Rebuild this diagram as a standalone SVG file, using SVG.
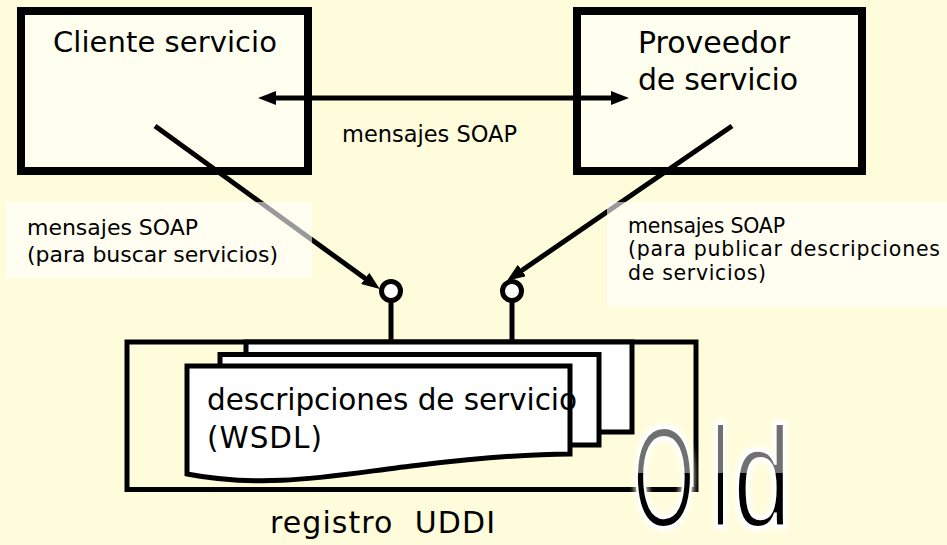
<svg xmlns="http://www.w3.org/2000/svg" width="947" height="545" viewBox="0 0 947 545">
<style>
.t{font-family:"DejaVu Sans","Liberation Sans",sans-serif;fill:#000}
.box{fill:#FFFFF0;stroke:#000;stroke-width:8}
.ln{stroke:#000;stroke-width:5;fill:none}
.pg{fill:#fff;stroke:#000;stroke-width:5}
.lbl{fill:#fff;fill-opacity:0.6}
.port{fill:#fff;stroke:#000;stroke-width:5}
.old{font-family:"Liberation Sans",Arial,sans-serif;font-size:142px;fill:url(#og);stroke:#fff;stroke-width:4}
</style>
<defs>
<marker id="ah" viewBox="0 0 18 14" refX="1" refY="7" markerWidth="18" markerHeight="14" markerUnits="userSpaceOnUse" orient="auto-start-reverse"><path d="M0,0 L18,7 L0,14 z" fill="#000"/></marker>
<linearGradient id="og" x1="0" y1="0" x2="0" y2="1">
<stop offset="0" stop-color="#707070"/><stop offset="0.47" stop-color="#707070"/><stop offset="0.47" stop-color="#000"/><stop offset="1" stop-color="#000"/>
</linearGradient>
<filter id="glow" x="-30%" y="-30%" width="160%" height="160%">
<feMorphology in="SourceAlpha" operator="dilate" radius="2" result="d"/>
<feGaussianBlur in="d" stdDeviation="2.5" result="b"/>
<feFlood flood-color="#FFFFF4" flood-opacity="0.75"/>
<feComposite in2="b" operator="in" result="g"/>
<feMerge><feMergeNode in="g"/><feMergeNode in="SourceGraphic"/></feMerge>
</filter>
</defs>
<rect x="0" y="0" width="947" height="545" fill="#FFFCDC"/>

<g id="cliente">
<rect class="box" x="21" y="11" width="287" height="160"/>
<text class="t" x="53" y="52" font-size="29" textLength="224">Cliente servicio</text>
</g>

<g id="proveedor">
<rect class="box" x="577" y="11" width="285" height="160"/>
<text class="t" x="638" y="53" font-size="30" textLength="152">Proveedor</text>
<text class="t" x="638" y="90" font-size="30" textLength="160">de servicio</text>
</g>

<g id="registro">
<rect x="127" y="342" width="569" height="147.5" fill="none" stroke="#000" stroke-width="5"/>
<rect class="pg" x="246" y="342" width="386" height="90"/>
<rect class="pg" x="220" y="354.5" width="379" height="90.5"/>
<path class="pg" d="M187,366 H570 V454 C530,454 480,458 420,465 C340,474 270,490 187,474 Z"/>
<text class="t" x="207" y="410" font-size="29.5" textLength="370">descripciones de servicio</text>
<text class="t" x="207" y="448" font-size="29.5" textLength="115">(WSDL)</text>
<text class="t" x="270" y="533" font-size="30" textLength="225" xml:space="preserve">registro  UDDI</text>
</g>

<g id="puertos">
<line class="ln" x1="391" y1="300" x2="391" y2="344"/>
<line class="ln" x1="512" y1="300" x2="512" y2="344"/>
<circle class="port" cx="391" cy="291" r="9.5"/>
<circle class="port" cx="512" cy="291" r="9.5"/>
</g>

<g id="connectors">
<line class="ln" x1="275" y1="98" x2="612" y2="98" marker-start="url(#ah)" marker-end="url(#ah)"/>
<line class="ln" x1="155" y1="126" x2="366" y2="279" marker-end="url(#ah)"/>
<line class="ln" x1="732" y1="126" x2="521" y2="271" marker-end="url(#ah)"/>
<text class="t" x="342" y="142" font-size="22.5" textLength="175">mensajes SOAP</text>
<g id="lbl-buscar">
<rect class="lbl" x="6" y="202" width="306" height="76"/>
<text class="t" x="27" y="235" font-size="22" textLength="171">mensajes SOAP</text>
<text class="t" x="27" y="262" font-size="22" textLength="251">(para buscar servicios)</text>
</g>
<g id="lbl-publicar">
<rect class="lbl" x="607" y="202" width="340" height="105"/>
<text class="t" x="628" y="233" font-size="20.5" textLength="157">mensajes SOAP</text>
<text class="t" x="628" y="256" font-size="20.5" textLength="312">(para publicar descripciones</text>
<text class="t" x="628" y="280" font-size="20.5" textLength="138">de servicios)</text>
</g>
</g>

<g id="old" filter="url(#glow)">
<text class="old" transform="translate(633,527) scale(0.56,1)">O</text>
<text class="old" transform="translate(711,527) scale(0.6,1)">l</text>
<text class="old" transform="translate(733,527) scale(0.74,1)">d</text>
</g>
</svg>
